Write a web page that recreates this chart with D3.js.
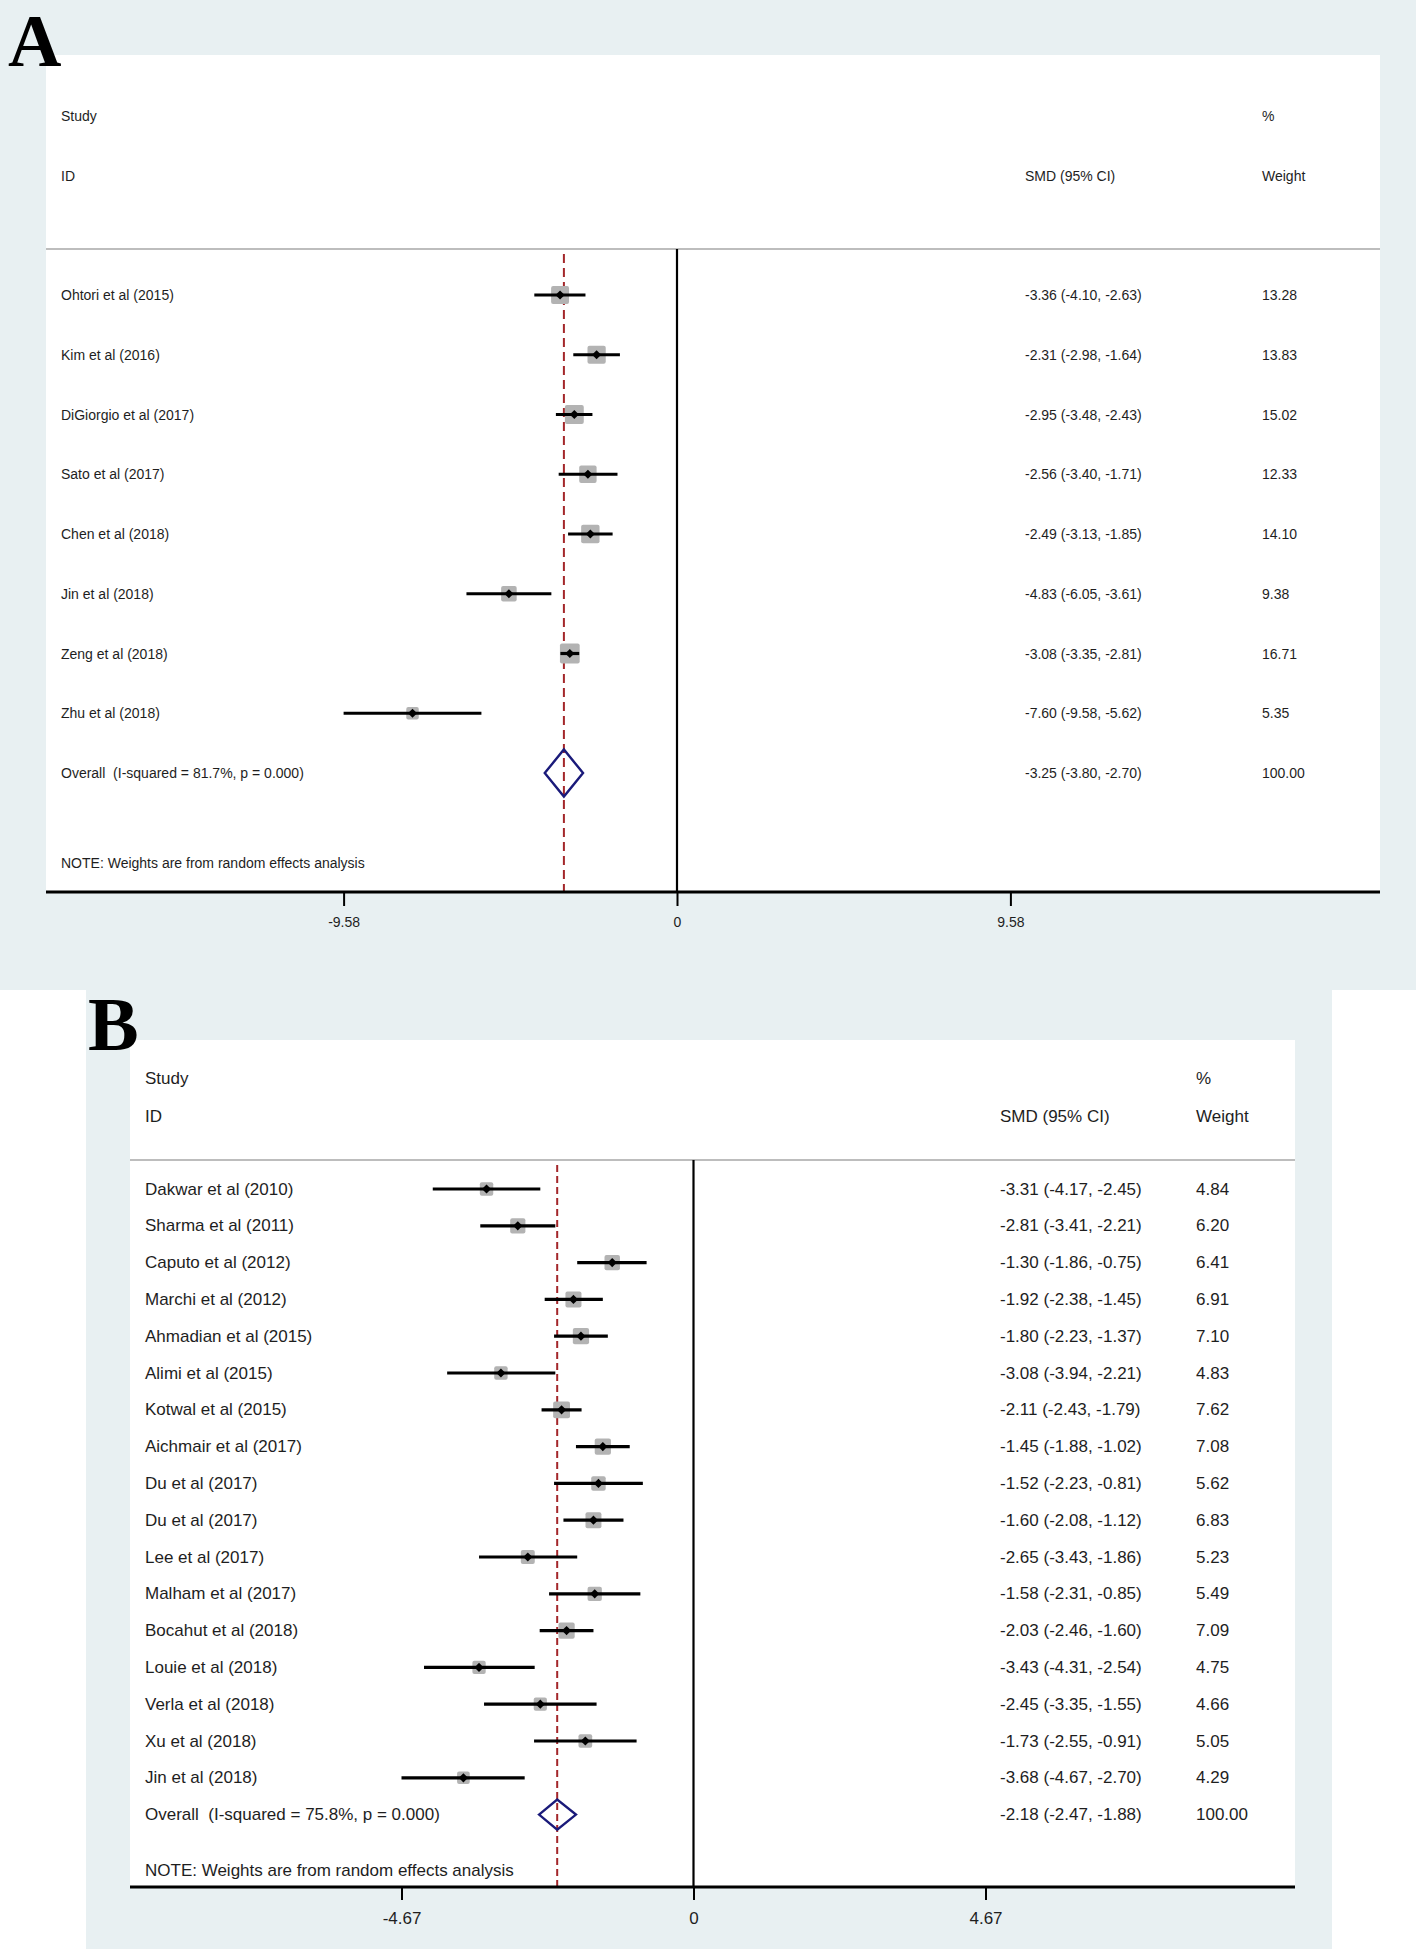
<!DOCTYPE html>
<html>
<head>
<meta charset="utf-8">
<script src="https://cdn.jsdelivr.net/npm/d3@7"></script>
<style>
  body { margin: 0; background: #fff; }
  svg text { font-family: "Liberation Sans", Arial, sans-serif; fill: #1e1e1e; white-space: pre; }
</style>
</head>
<body>
<svg id="chart" width="1418" height="1949"></svg>
<script>
// ---- panel A data ----
const studiesA = ["Ohtori et al (2015)", "Kim et al (2016)", "DiGiorgio et al (2017)", "Sato et al (2017)",
    "Chen et al (2018)", "Jin et al (2018)", "Zeng et al (2018)", "Zhu et al (2018)"];
const smdA = [-3.36, -2.31, -2.95, -2.56, -2.49, -4.83, -3.08, -7.60];
const lowA = [-4.10, -2.98, -3.48, -3.40, -3.13, -6.05, -3.35, -9.58];
const highA = [-2.63, -1.64, -2.43, -1.71, -1.85, -3.61, -2.81, -5.62];
const weightA = [13.28, 13.83, 15.02, 12.33, 14.10, 9.38, 16.71, 5.35];
const overallA = [-3.25, -3.80, -2.70];
const overallLabelA = "Overall  (I-squared = 81.7%, p = 0.000)";
const ticksA = [-9.58, 0, 9.58];

// ---- panel B data ----
const studiesB = ["Dakwar et al (2010)", "Sharma et al (2011)", "Caputo et al (2012)", "Marchi et al (2012)",
    "Ahmadian et al (2015)", "Alimi et al (2015)", "Kotwal et al (2015)", "Aichmair et al (2017)",
    "Du et al (2017)", "Du et al (2017)", "Lee et al (2017)", "Malham et al (2017)", "Bocahut et al (2018)",
    "Louie et al (2018)", "Verla et al (2018)", "Xu et al (2018)", "Jin et al (2018)"];
const smdB = [-3.31, -2.81, -1.30, -1.92, -1.80, -3.08, -2.11, -1.45, -1.52, -1.60, -2.65, -1.58, -2.03, -3.43, -2.45, -1.73, -3.68];
const lowB = [-4.17, -3.41, -1.86, -2.38, -2.23, -3.94, -2.43, -1.88, -2.23, -2.08, -3.43, -2.31, -2.46, -4.31, -3.35, -2.55, -4.67];
const highB = [-2.45, -2.21, -0.75, -1.45, -1.37, -2.21, -1.79, -1.02, -0.81, -1.12, -1.86, -0.85, -1.60, -2.54, -1.55, -0.91, -2.70];
const weightB = [4.84, 6.20, 6.41, 6.91, 7.10, 4.83, 7.62, 7.08, 5.62, 6.83, 5.23, 5.49, 7.09, 4.75, 4.66, 5.05, 4.29];
const overallB = [-2.18, -2.47, -1.88];
const overallLabelB = "Overall  (I-squared = 75.8%, p = 0.000)";
const ticksB = [-4.67, 0, 4.67];

const noteText = "NOTE: Weights are from random effects analysis";

const svg = d3.select("#chart");

function fmt(v) { return v.toFixed(2); }

function drawPanel(p) {
    const g = svg.append("g");

    // backgrounds
    g.append("rect").attr("x", p.bg[0]).attr("y", p.bg[1])
        .attr("width", p.bg[2] - p.bg[0]).attr("height", p.bg[3] - p.bg[1])
        .attr("fill", "#e8f0f2");
    g.append("rect").attr("x", p.plot[0]).attr("y", p.plot[1])
        .attr("width", p.plot[2] - p.plot[0]).attr("height", p.plot[3] - p.plot[1])
        .attr("fill", "#fff");

    // panel letter
    g.append("text").attr("x", p.letter[0]).attr("y", p.letter[1])
        .style("font-family", "'Liberation Serif', 'Times New Roman', serif")
        .style("font-weight", "bold").style("font-size", p.letterSize + "px")
        .style("fill", "#000")
        .text(p.letterText);

    const x = d3.scaleLinear().domain([p.ticks[0], p.ticks[2]]).range(p.xRange);
    const rows = p.studies.map((s, i) => ({ name: s, smd: p.smd[i], lo: p.low[i], hi: p.high[i], w: p.weight[i] }));
    const y = d3.scaleLinear().domain([0, 1]).range([p.row0, p.row0 + p.rowStep]);
    const fs = p.fontSize + "px";

    const txt = (tx, ty, s, anchor) => g.append("text")
        .attr("x", tx).attr("y", ty).attr("dominant-baseline", "central")
        .attr("text-anchor", anchor || "start")
        .style("font-size", fs).text(s);

    // header
    txt(p.labelX, p.studyY, "Study");
    txt(p.labelX, p.idY, "ID");
    txt(p.smdX, p.idY, "SMD (95% CI)");
    txt(p.wX, p.studyY, "%");
    txt(p.wX, p.idY, "Weight");

    g.append("line").attr("x1", p.plot[0]).attr("x2", p.plot[2])
        .attr("y1", p.sepY).attr("y2", p.sepY)
        .attr("stroke", "#bdbdbd").attr("stroke-width", 2);

    // zero line
    g.append("line").attr("x1", x(0)).attr("x2", x(0))
        .attr("y1", p.sepY).attr("y2", p.axisY)
        .attr("stroke", "#000").attr("stroke-width", 2.2);

    // overall dashed line
    g.append("line").attr("x1", x(p.overall[0])).attr("x2", x(p.overall[0]))
        .attr("y1", p.sepY + 5).attr("y2", p.axisY)
        .attr("stroke", "#a3262a").attr("stroke-width", 2)
        .attr("stroke-dasharray", p.dash);

    // study rows
    const row = g.selectAll("g.row").data(rows).enter().append("g").attr("class", "row");
    row.append("rect")
        .attr("x", d => x(d.smd) - p.box(d.w) / 2)
        .attr("y", (d, i) => y(i) - p.box(d.w) / 2)
        .attr("width", d => p.box(d.w)).attr("height", d => p.box(d.w))
        .attr("rx", 2).attr("fill", "#b3b3b3");
    row.append("line")
        .attr("x1", d => x(d.lo)).attr("x2", d => x(d.hi))
        .attr("y1", (d, i) => y(i)).attr("y2", (d, i) => y(i))
        .attr("stroke", "#000").attr("stroke-width", 3.2);
    row.append("path")
        .attr("d", d3.symbol(d3.symbolSquare, 42))
        .attr("transform", (d, i) => `translate(${x(d.smd)},${y(i)}) rotate(45)`)
        .attr("fill", "#000");
    row.each(function(d, i) {
        txt(p.labelX, y(i), d.name);
        txt(p.smdX, y(i), `${fmt(d.smd)} (${fmt(d.lo)}, ${fmt(d.hi)})`);
        txt(p.wX, y(i), fmt(d.w));
    });

    // overall diamond
    const oy = y(rows.length);
    const h = p.diamondHalf;
    g.append("path")
        .attr("d", `M${x(p.overall[1])},${oy}L${x(p.overall[0])},${oy - h}L${x(p.overall[2])},${oy}L${x(p.overall[0])},${oy + h}Z`)
        .attr("fill", "none").attr("stroke", "#1a1a7a").attr("stroke-width", 2.4);
    txt(p.labelX, oy, p.overallLabel);
    txt(p.smdX, oy, `${fmt(p.overall[0])} (${fmt(p.overall[1])}, ${fmt(p.overall[2])})`);
    txt(p.wX, oy, fmt(100));

    txt(p.labelX, p.noteY, noteText);

    // axis
    const axis = d3.axisBottom(x).tickValues(p.ticks)
        .tickFormat(d => d === 0 ? "0" : fmt(d))
        .tickSize(p.tickLen).tickSizeOuter(0).tickPadding(p.tickPad);
    const ag = g.append("g").attr("transform", `translate(0,${p.axisY})`).call(axis);
    ag.select(".domain").remove();
    ag.selectAll(".tick line").attr("stroke", "#000").attr("stroke-width", 2);
    ag.selectAll(".tick text").style("font-size", fs)
        .style("font-family", "'Liberation Sans', Arial, sans-serif").attr("fill", "#1e1e1e");
    g.append("line").attr("x1", p.plot[0]).attr("x2", p.plot[2])
        .attr("y1", p.axisY).attr("y2", p.axisY)
        .attr("stroke", "#000").attr("stroke-width", 3);
}

drawPanel({
    studies: studiesA, smd: smdA, low: lowA, high: highA, weight: weightA,
    overall: overallA, overallLabel: overallLabelA, ticks: ticksA,
    bg: [0, 0, 1416, 990], plot: [46, 55, 1380, 892],
    letterText: "A", letter: [8, 66], letterSize: 74,
    fontSize: 14, xRange: [343.6, 1010.4],
    labelX: 61, smdX: 1025, wX: 1262,
    studyY: 116, idY: 176, sepY: 249, row0: 295, rowStep: 59.75,
    noteY: 863, axisY: 892, tickLen: 14, tickPad: 11,
    dash: "9,5", box: w => 3 + 4.1 * Math.sqrt(w), diamondHalf: 23.5
});

drawPanel({
    studies: studiesB, smd: smdB, low: lowB, high: highB, weight: weightB,
    overall: overallB, overallLabel: overallLabelB, ticks: ticksB,
    bg: [86, 990, 1332, 1949], plot: [130, 1040, 1295, 1887],
    letterText: "B", letter: [88, 1050], letterSize: 76,
    fontSize: 17, xRange: [401.5, 985.5],
    labelX: 145, smdX: 1000, wX: 1196,
    studyY: 1078, idY: 1116, sepY: 1160, row0: 1189, rowStep: 36.8,
    noteY: 1870, axisY: 1887, tickLen: 13, tickPad: 12,
    dash: "7,4", box: w => 6.1 * Math.sqrt(w), diamondHalf: 15
});
</script>
</body>
</html>
